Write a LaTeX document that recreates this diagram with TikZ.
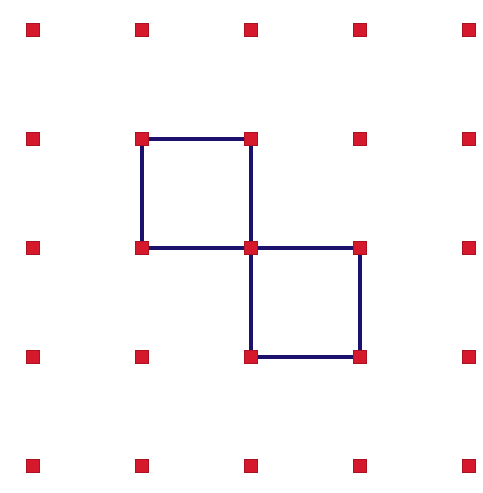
\documentclass[tikz,border=0pt]{standalone}
\usepackage{xcolor}
\usepackage{tikz}
\usetikzlibrary{backgrounds}

\definecolor{dotred}{RGB}{214,24,44}
\definecolor{edgeblue}{RGB}{28,18,110}

\begin{document}
\begin{tikzpicture}[
    dot/.style={rectangle, fill=dotred, draw=dotred!80!black, line width=0.3pt, inner sep=0pt, minimum size=0.125cm},
    edge/.style={draw=edgeblue, line width=0.8pt}
]
    \useasboundingbox (-0.303,0.275) rectangle (4.128,-4.248);

    % Grid of dots
    \foreach \i in {0,...,4}
        \foreach \j in {0,...,4}
            \node[dot] (d\i\j) at (\i,-\j) {};

    % Squares
    \begin{scope}[on background layer]
        \draw[edge] (d11.center) -- (d21.center) -- (d22.center) -- (d12.center) -- (d11.center);
        \draw[edge] (d22.center) -- (d32.center) -- (d33.center) -- (d23.center) -- (d22.center);
    \end{scope}
\end{tikzpicture}
\end{document}
